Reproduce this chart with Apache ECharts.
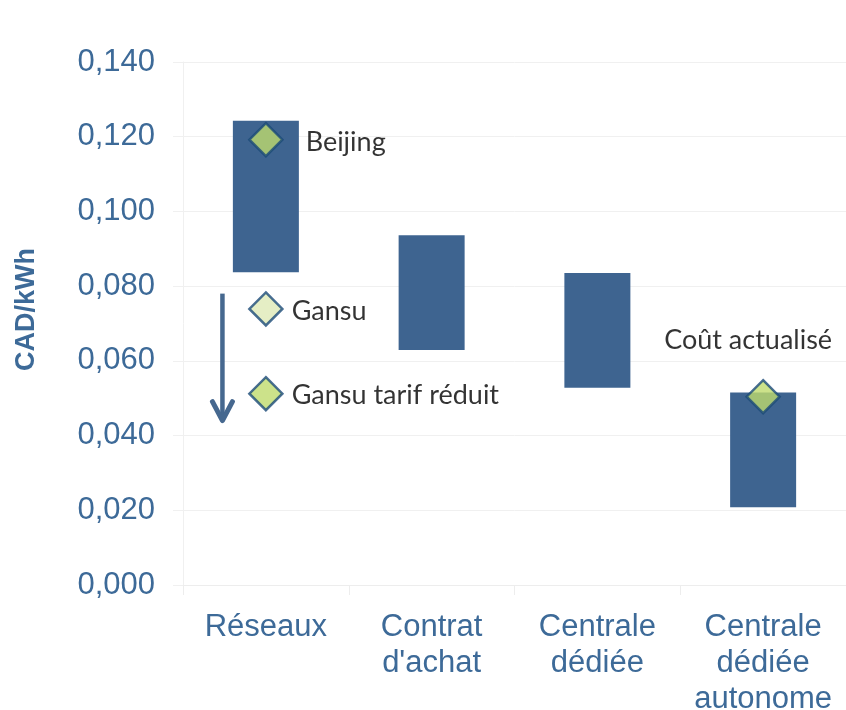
<!DOCTYPE html>
<html>
<head>
<meta charset="utf-8">
<script src="https://cdn.jsdelivr.net/npm/echarts@6/dist/echarts.min.js"></script>
<style>
  html, body { margin: 0; padding: 0; background: #fff; }
  #chart { width: 846px; height: 710px; }
</style>
</head>
<body>
<div id="chart"></div>
<script>
  const categories = ["Réseaux", "Contrat\nd'achat", "Centrale\ndédiée", "Centrale\ndédiée\nautonome"];
  const rangeLow = [0.0837, 0.0629, 0.0528, 0.0208];
  const rangeHigh = [0.1243, 0.0936, 0.0835, 0.0515];

  const pointNames = ["Beijing", "Gansu", "Gansu tarif réduit", "Coût actualisé"];
  const pointCategory = [0, 0, 0, 3];
  const pointValues = [0.1192, 0.0739, 0.0512, 0.0504];

  // arrow from Gansu down to tarif réduit
  const arrowFrom = 0.078;
  const arrowTo = 0.044;

  const blue = "#3e6490";
  const textBlue = "#3d6a98";
  const fills = { "Beijing": "#bfdb6d", "Gansu": "#dfeab6", "Gansu tarif réduit": "#bfdb6d", "Coût actualisé": "#bfdb6d" };

  const chart = echarts.init(document.getElementById("chart"));

  const points = pointNames.map((name, i) => {
    let label = { position: "right", distance: 8, offset: [0, 2] };
    if (name === "Beijing") label = { position: "right", distance: 22, offset: [0, 3] };
    if (name === "Coût actualisé") label = { position: "top", offset: [-15, -20] };
    return {
      name,
      value: [pointCategory[i], pointValues[i]],
      itemStyle: { color: fills[name] },
      label,
    };
  });

  chart.setOption({
    backgroundColor: "#fff",
    animation: false,
    grid: { left: 183, right: 0, top: 62, bottom: 125, outerBoundsMode: "none", containLabel: false },
    xAxis: {
      type: "category",
      data: categories,
      axisLine: { show: true, lineStyle: { color: "#ededed" } },
      axisTick: { show: true, length: 10, lineStyle: { color: "#ededed" } },
      axisLabel: {
        interval: 0,
        hideOverlap: false,
        color: textBlue,
        fontFamily: "Liberation Sans",
        fontSize: 31,
        lineHeight: 36,
        margin: 24,
      },
    },
    yAxis: {
      type: "value",
      min: 0,
      max: 0.14,
      interval: 0.02,
      name: "CAD/kWh",
      nameLocation: "middle",
      nameGap: 143,
      nameTextStyle: {
        color: textBlue,
        fontFamily: "Liberation Sans",
        fontWeight: "bold",
        fontSize: 27,
        padding: [0, 0, 0, 28],
      },
      axisLine: { show: true, lineStyle: { color: "#f0f0f0" } },
      axisTick: { show: true, length: 10, lineStyle: { color: "#f0f0f0" } },
      splitLine: { lineStyle: { color: "#f0f0f0" } },
      axisLabel: {
        color: textBlue,
        fontFamily: "Liberation Sans",
        fontSize: 31,
        margin: 28,
        formatter: (v) => v.toFixed(3).replace(".", ","),
      },
    },
    series: [
      {
        name: "base",
        type: "bar",
        stack: "range",
        barWidth: 66,
        itemStyle: { color: "transparent" },
        data: rangeLow,
        silent: true,
      },
      {
        name: "range",
        type: "bar",
        stack: "range",
        barWidth: 66,
        itemStyle: { color: blue },
        data: rangeHigh.map((h, i) => +(h - rangeLow[i]).toFixed(4)),
      },
      {
        name: "points",
        type: "scatter",
        symbol: "diamond",
        symbolSize: [33, 33],
        z: 5,
        itemStyle: { borderColor: "#1a4a78", borderWidth: 2.5 },
        label: {
          show: true,
          formatter: "{b}",
          color: "#000",
          fontFamily: "Lato",
          fontSize: 27,
        },
        data: points,
      },
    ],
  });

  function drawArrow() {
    const left = chart.convertToPixel({ gridIndex: 0 }, [0, 0]);
    const x = (183 + left[0]) / 2 - 2;
    const y1 = chart.convertToPixel({ yAxisIndex: 0 }, arrowFrom);
    const y2 = chart.convertToPixel({ yAxisIndex: 0 }, arrowTo);
    chart.setOption({
      graphic: [
        {
          type: "line",
          shape: { x1: x, y1: y1, x2: x, y2: y2 - 2 },
          style: { stroke: "#46688f", lineWidth: 4.5 },
        },
        {
          type: "polyline",
          shape: { points: [[x - 10, y2 - 19], [x, y2], [x + 10, y2 - 19]] },
          style: { stroke: "#46688f", lineWidth: 5, fill: null, lineJoin: "round", lineCap: "round" },
        },
      ],
    });
  }
  drawArrow();
</script>
</body>
</html>
